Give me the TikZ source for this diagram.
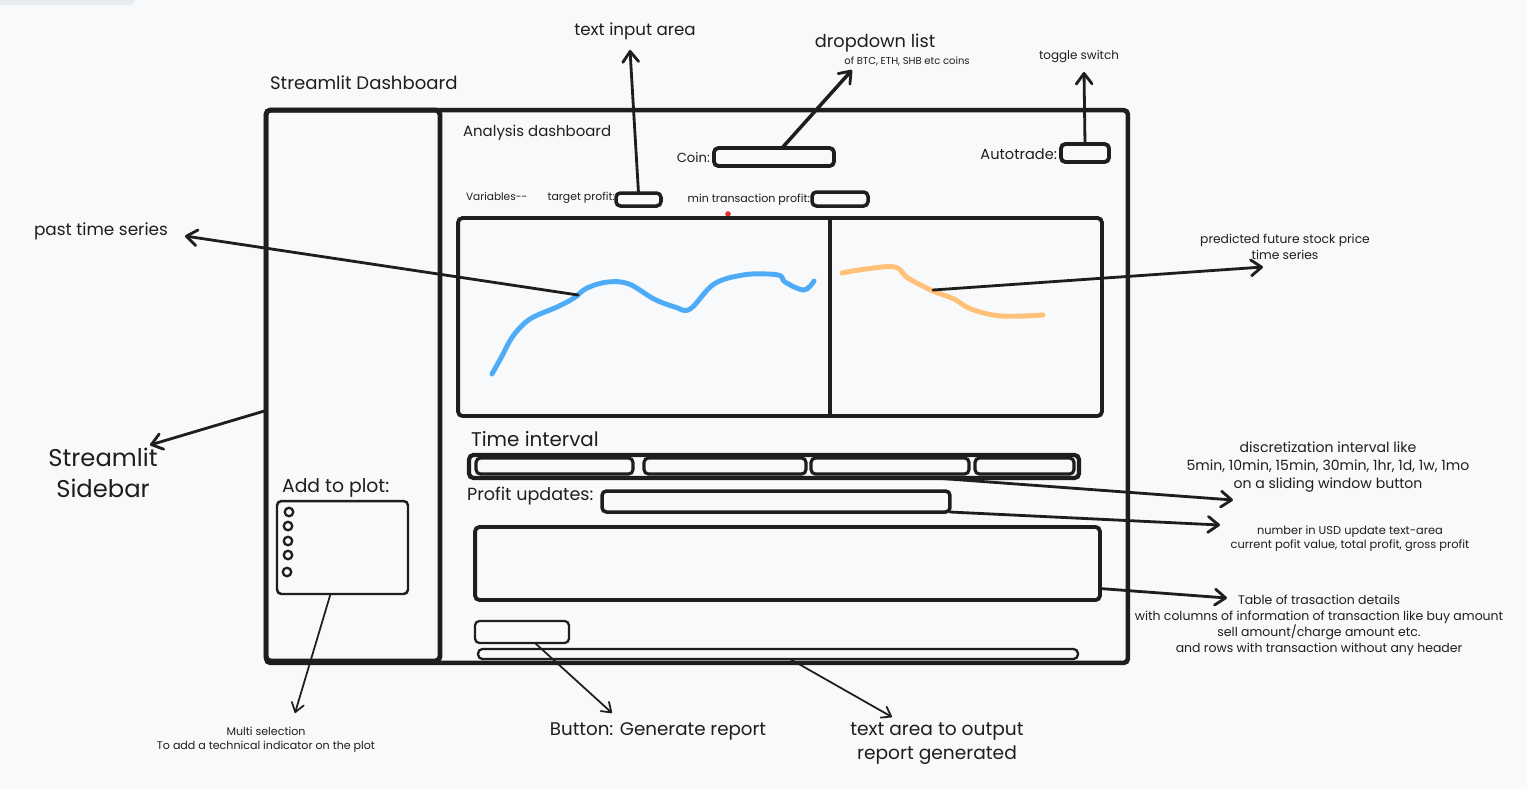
\documentclass[tikz,border=0pt]{standalone}
\usepackage{fontspec}
\setmainfont{Poppins}
\usepackage{tikz}
\usetikzlibrary{arrows.meta,calc}

\definecolor{ink}{HTML}{1E1E1E}
\definecolor{canvas}{HTML}{F8F9FA}
\definecolor{tabgrey}{HTML}{E9ECEF}
\definecolor{pastblue}{HTML}{4DABF7}
\definecolor{futorange}{HTML}{FFC078}
\definecolor{dotred}{HTML}{E03131}

\tikzset{
  uibox/.style={draw=ink,line width=2pt,rounded corners=2.5pt,inner sep=0pt,outer sep=0pt},
  arr/.style={draw=ink,line width=1.6pt,line cap=round,-{Straight Barb[length=6pt,width=9pt,line width=1.6pt,round]}},
  thinarr/.style={draw=ink,line width=1pt,line cap=round,-{Straight Barb[length=5pt,width=7pt,line width=1pt,round]}},
  lbl/.style={text=ink,inner sep=1pt,align=center},
  radio/.style={draw=ink,circle,line width=1.3pt,minimum size=0.17cm,inner sep=0pt}
}

\begin{document}
\begin{tikzpicture}[x=0.02cm,y=-0.02cm]
    \fill[canvas] (0,0) rectangle (1527,789);
    \useasboundingbox (0,0) rectangle (1527,789);
    \fill[tabgrey,rounded corners=3pt] (-10,-10) rectangle (135,5);

    % frame and sidebar
    \node[uibox,line width=2.6pt,minimum width=17.24cm,minimum height=11.06cm] (dash) at (697,386.5) {};
    \node[uibox,line width=2.8pt,minimum width=3.48cm,minimum height=11.02cm] (side) at (353,385.5) {};

    % titles
    \node[lbl,anchor=west,font=\fontsize{10.3}{12}\selectfont] (dashtitle) at (268,83) {Streamlit Dashboard};
    \node[lbl,anchor=west,font=\fontsize{8.5}{10}\selectfont] (analysis) at (461,133) {Analysis dashboard};

    % top controls
    \node[lbl,anchor=east,font=\fontsize{7.5}{9}\selectfont] (coinlbl) at (712,158) {Coin:};
    \node[uibox,line width=2.2pt,minimum width=2.4cm,minimum height=0.36cm] (coinbox) at (774,157) {};
    \node[lbl,anchor=east,font=\fontsize{8.3}{9}\selectfont] (autolbl) at (1059,154) {Autotrade:};
    \node[uibox,line width=2.2pt,minimum width=0.96cm,minimum height=0.36cm] (autobox) at (1085,153) {};
    \node[lbl,anchor=west,font=\fontsize{6}{7}\selectfont] (varlbl) at (464,197) {Variables-{}-};
    \node[lbl,anchor=east,font=\fontsize{6.2}{7}\selectfont] (tplbl) at (617,198) {target profit:};
    \node[uibox,line width=2pt,minimum width=0.9cm,minimum height=0.26cm] (tpbox) at (638.5,199.5) {};
    \node[lbl,anchor=east,font=\fontsize{6.3}{7}\selectfont] (mtplbl) at (812,200) {min transaction profit:};
    \node[uibox,line width=2pt,minimum width=1.12cm,minimum height=0.28cm] (mtpbox) at (840,199) {};
    \fill[dotred] (728,214) circle (1.6pt);

    % chart
    \node[uibox,line width=2.2pt,minimum width=12.88cm,minimum height=3.96cm] (chart) at (780,317) {};
    \draw[ink,line width=1.8pt] (830,218) -- (830,416);
    \draw[pastblue,line width=2.8pt,line cap=round,line join=round] plot[smooth,tension=0.6] coordinates {
        (492,374) (502,356) (513,336) (530,319) (557,307) (574,298) (587,288) (608,282)
        (629,284) (654,299) (675,307) (690,309) (714,284) (743,275) (768,274) (781,276)
        (785,282) (804,290) (814,281)};
    \draw[futorange,line width=2.8pt,line cap=round,line join=round] plot[smooth,tension=0.6] coordinates {
        (842,273) (866,269) (895,267) (908,278) (933,291) (954,299) (971,309) (1001,316) (1043,315)};
    \coordinate (pastpt) at (578,295);
    \coordinate (futpt) at (933,290);

    % time interval slider
    \node[lbl,anchor=west,font=\fontsize{11.3}{13}\selectfont] (tilbl) at (469,439) {Time interval};
    \node[uibox,line width=2.4pt,minimum width=12.2cm,minimum height=0.46cm] (slider) at (774,466.5) {};
    \node[uibox,line width=1.8pt,minimum width=3.14cm,minimum height=0.32cm] (seg1) at (554.5,466) {};
    \node[uibox,line width=1.8pt,minimum width=3.24cm,minimum height=0.32cm] (seg2) at (725,466) {};
    \node[uibox,line width=1.8pt,minimum width=3.16cm,minimum height=0.32cm] (seg3) at (890,466) {};
    \node[uibox,line width=1.8pt,minimum width=1.98cm,minimum height=0.32cm] (seg4) at (1024.5,466) {};

    % profit and table
    \node[lbl,anchor=west,font=\fontsize{10}{12}\selectfont] (pulbl) at (465,496) {Profit updates:};
    \node[uibox,line width=2pt,minimum width=6.96cm,minimum height=0.42cm] (profitbox) at (776,501.5) {};
    \node[uibox,line width=2.2pt,minimum width=12.5cm,minimum height=1.46cm] (table) at (787.5,563.5) {};
    \node[uibox,line width=1.3pt,minimum width=1.88cm,minimum height=0.44cm] (button) at (522,632) {};
    \node[uibox,line width=1.3pt,minimum width=12.0cm,minimum height=0.2cm] (report) at (778,654) {};

    % sidebar content
    \node[lbl,anchor=west,font=\fontsize{10.7}{12}\selectfont] (addlbl) at (280,488) {Add to plot:};
    \node[uibox,line width=1.4pt,minimum width=2.62cm,minimum height=1.86cm] (plotbox) at (342.5,547.5) {};
    \node[radio] (opt1) at (289,512) {};
    \node[radio] (opt2) at (288,526) {};
    \node[radio] (opt3) at (288,541) {};
    \node[radio] (opt4) at (288,555) {};
    \node[radio] (opt5) at (287,572) {};

    % annotations
    \node[lbl,font=\fontsize{9.5}{11}\selectfont] (tinput) at (635,31) {text input area};
    \node[lbl,font=\fontsize{10.1}{12}\selectfont] (ddlist) at (875,43) {dropdown list};
    \node[lbl,font=\fontsize{5.7}{7}\selectfont] (ddsub) at (907,61) {of BTC, ETH, SHB etc coins};
    \node[lbl,font=\fontsize{6.8}{8}\selectfont] (toggle) at (1079,57) {toggle switch};
    \node[lbl,font=\fontsize{9.6}{11}\selectfont] (pastlbl) at (101,231) {past time series};
    \node[lbl,font=\fontsize{7}{9.1}\selectfont] (futlbl) at (1285,247) {predicted future stock price\\time series};
    \node[lbl,font=\fontsize{8}{10.2}\selectfont] (discr) at (1328,467) {discretization interval like\\5min, 10min, 15min, 30min, 1hr, 1d, 1w, 1mo\\on a sliding window button};
    \node[lbl,font=\fontsize{6.5}{7.9}\selectfont] (usd) at (1350,539) {number in USD update text-area\\current pofit value, total profit, gross profit};
    \node[lbl,font=\fontsize{7.1}{9.1}\selectfont] (tabdesc) at (1319,625) {Table of trasaction details\\with columns of information of transaction like buy amount\\sell amount/charge amount etc.\\and rows with transaction without any header};
    \node[lbl,font=\fontsize{13.8}{17.6}\selectfont] (sidelbl) at (103,473) {Streamlit\\Sidebar};
    \node[lbl,font=\fontsize{6.3}{7.9}\selectfont] (multi) at (266,740) {Multi selection\\To add a technical indicator on the plot};
    \node[lbl,font=\fontsize{10.4}{12}\selectfont] (btnlbl) at (658,731) {Button: Generate report};
    \node[lbl,font=\fontsize{10.6}{13.6}\selectfont] (replbl) at (937,744) {text area to output\\report generated};

    % arrow tips
    \coordinate (tinputtip) at (630,50);
    \coordinate (ddtip) at (852,70);
    \coordinate (toggletip) at (1084,72);
    \coordinate (pasttip) at (185,236);
    \coordinate (futtip) at (1263,267);
    \coordinate (discrtip) at (1233,500);
    \coordinate (usdtip) at (1220,525);
    \coordinate (tabtip) at (1227,598);
    \coordinate (sidetip) at (150,445);
    \coordinate (multitip) at (295,713);
    \coordinate (btntip) at (612,713);
    \coordinate (reptip) at (892,717);

    % connectors
    \draw[arr] (tpbox.north) to (tinputtip);
    \draw[arr,line width=2pt] ($(coinbox.north)+(8,0)$) to (ddtip);
    \draw[arr] (autobox.north) to (toggletip);
    \draw[arr] (pastpt) to (pasttip);
    \draw[arr] (futpt) to (futtip);
    \draw[arr] ($(slider.south)+(161,0)$) to (discrtip);
    \draw[arr] (profitbox.south east) to (usdtip);
    \draw[arr] ($(table.east)+(0,25)$) to (tabtip);
    \draw[arr] ($(side.west)+(0,25)$) to (sidetip);
    \draw[thinarr] ($(plotbox.south)+(-12,0)$) to (multitip);
    \draw[thinarr] ($(button.south)+(13,0)$) to (btntip);
    \draw[thinarr] ($(report.south)+(12,0)$) to (reptip);
\end{tikzpicture}
\end{document}
